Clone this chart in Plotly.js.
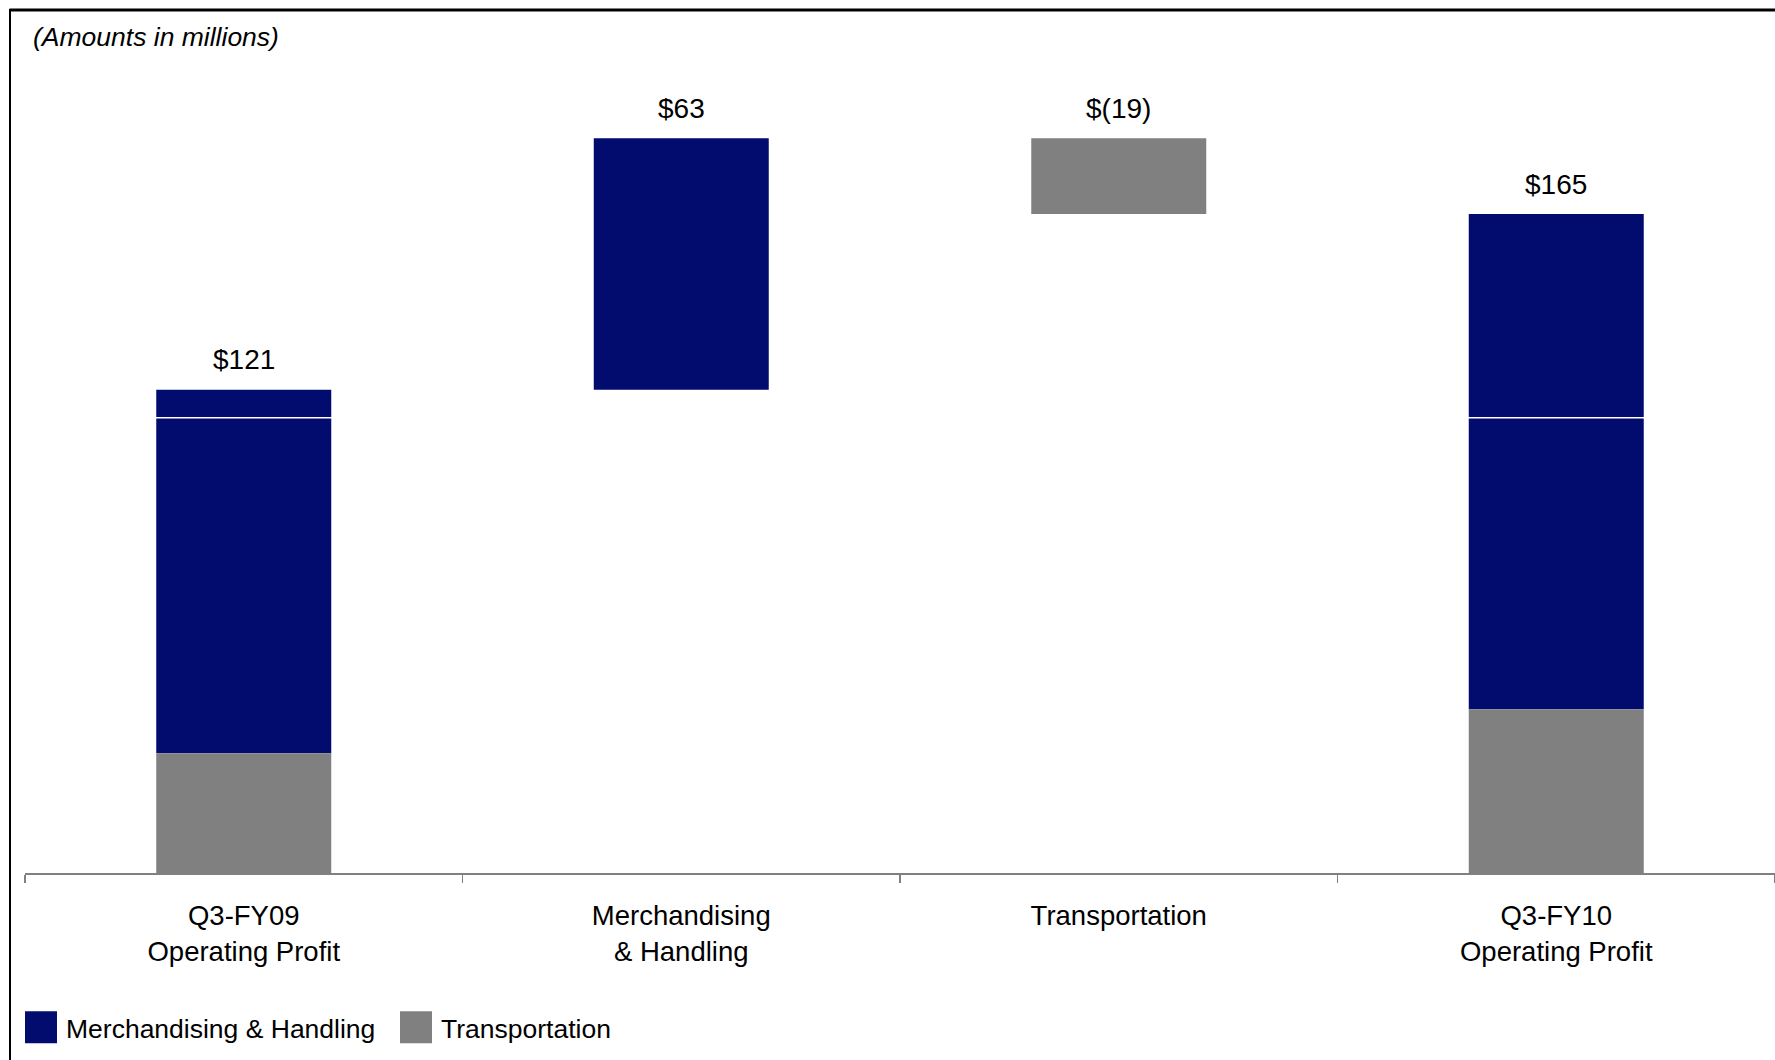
<!DOCTYPE html>
<html>
<head>
<meta charset="utf-8">
<script src="https://cdn.plot.ly/plotly-3.0.1.min.js"></script>
<style>
  html, body { margin: 0; padding: 0; background: #fff; overflow: hidden; }
  #chart { width: 1775px; height: 1060px; }
</style>
</head>
<body>
<div id="chart"></div>
<script>
// ---- data (amounts in millions) ----
const categories = ['Q3-FY09<br>Operating Profit', 'Merchandising<br>& Handling', 'Transportation', 'Q3-FY10<br>Operating Profit'];
const categoryKinds = ['total', 'change', 'change', 'total'];
const merchHandling = [91, 63, null, 124];
const transportation = [30, null, -19, 41];
const barLabels = ['$121', '$63', '$(19)', '$165'];
const seriesNames = ['Merchandising & Handling', 'Transportation'];
const seriesColors = ['#020c6e', '#808080'];
const separatorValue = 114;

// ---- build waterfall bases from the values ----
const mhBase = [], trBase = [], tops = [];
let running = 0;
for (let i = 0; i < categories.length; i++) {
  if (categoryKinds[i] === 'total') {
    const t = transportation[i] || 0, m = merchHandling[i] || 0;
    trBase.push(0); mhBase.push(t);
    running = t + m;
    tops.push(running);
  } else {
    const m = merchHandling[i], t = transportation[i];
    if (m != null) { mhBase.push(running); trBase.push(null); tops.push(Math.max(running, running + m)); running += m; }
    else { trBase.push(running); mhBase.push(null); tops.push(Math.max(running, running + t)); running += t; }
  }
}

const font = 'Liberation Sans, Arial, sans-serif';
const W = 1775, H = 1060;
const mL = 25, mR = 0, mT = 0, mB = 186.5;
const plotW = W - mL - mR, plotH = H - mT - mB;
const px2x = p => (p - mL) / plotW;
const px2y = p => (H - mB - p) / plotH;

const traces = [
  { type: 'bar', name: seriesNames[0], x: categories, y: merchHandling, base: mhBase,
    marker: { color: seriesColors[0], line: { width: 0 } }, hoverinfo: 'skip' },
  { type: 'bar', name: seriesNames[1], x: categories, y: transportation, base: trBase,
    marker: { color: seriesColors[1], line: { width: 0 } }, hoverinfo: 'skip' }
];

const annotations = categories.map((c, i) => ({
  x: c, y: tops[i], xref: 'x', yref: 'y', text: barLabels[i], showarrow: false,
  yanchor: 'middle', yshift: 30, font: { family: font, size: 28, color: '#000' }
}));

const layout = {
  width: W, height: H,
  margin: { l: mL, r: mR, t: mT, b: mB, pad: 0 },
  paper_bgcolor: '#fff', plot_bgcolor: '#fff',
  font: { family: font, color: '#000' },
  barmode: 'overlay', bargap: 0.6,
  title: { text: '(Amounts in millions)', xref: 'container', yref: 'container',
           x: 33 / W, xanchor: 'left', y: 1 - 37 / H, yanchor: 'middle',
           font: { family: font, size: 26.5, style: 'italic', color: '#000' } },
  xaxis: { type: 'category', showline: true, linecolor: '#808080', linewidth: 2,
           ticks: 'outside', tickson: 'boundaries', ticklen: 8, tickwidth: 1.5, tickcolor: '#808080',
           ticklabelstandoff: 17, tickfont: { family: font, size: 27.5, color: '#000' },
           showgrid: false, zeroline: false, fixedrange: true },
  yaxis: { range: [0, plotH / 3.996], visible: false, showgrid: false, zeroline: false, fixedrange: true },
  showlegend: true,
  legend: { orientation: 'h', xref: 'container', yref: 'container',
            x: 16 / W, xanchor: 'left', y: 1 - 1027.5 / H, yanchor: 'middle',
            itemwidth: 40, entrywidth: 320, entrywidthmode: 'pixels',
            font: { family: font, size: 26.5, color: '#000' },
            bgcolor: 'rgba(0,0,0,0)', traceorder: 'normal' },
  annotations: annotations,
  shapes: [
    { type: 'line', xref: 'paper', yref: 'y', x0: 0, x1: 1, y0: separatorValue, y1: separatorValue,
      line: { color: '#ffffff', width: 1.5 }, layer: 'above' },
    { type: 'line', xref: 'paper', yref: 'paper', x0: px2x(9.5), x1: px2x(W + 20), y0: px2y(10), y1: px2y(10),
      line: { color: '#000', width: 3 }, layer: 'above' },
    { type: 'line', xref: 'paper', yref: 'paper', x0: px2x(10), x1: px2x(10), y0: px2y(9), y1: px2y(H + 20),
      line: { color: '#000', width: 2 }, layer: 'above' }
  ]
};

Plotly.newPlot('chart', traces, layout, { staticPlot: true, displayModeBar: false }).then(gd => {
  gd.querySelectorAll('.legend .legendpoints path').forEach(p => {
    p.setAttribute('d', 'M16,16H-16V-16H16Z');
  });
});
</script>
</body>
</html>
